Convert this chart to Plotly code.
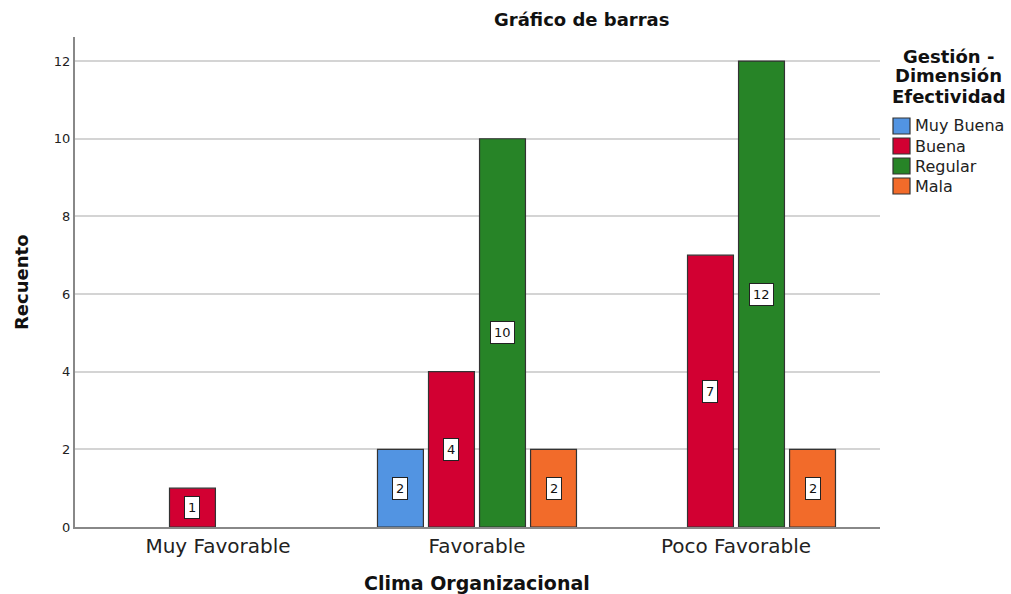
import plotly.graph_objects as go

categories = ["Muy Favorable", "Favorable", "Poco Favorable"]
series_names = ["Muy Buena", "Buena", "Regular", "Mala"]
muy_buena = [None, 2, None]
buena = [1, 4, 7]
regular = [None, 10, 12]
mala = [None, 2, 2]
series_values = [muy_buena, buena, regular, mala]
colors = ["#5294E2", "#D20032", "#278427", "#F26B2A"]
y_ticks = [0, 2, 4, 6, 8, 10, 12]

FONT = "DejaVu Sans, Verdana, sans-serif"
W, H = 1011, 594
L, R, T, B = 75, 880, 37, 527  # plot area in pixels


def px(x):
    return (x - L) / (R - L)


def py(y):
    return (B - y) / (B - T)


bargap = 0.212
n = len(series_names)
slot = (1 - bargap) / n

fig = go.Figure()
for name, vals, col in zip(series_names, series_values, colors):
    fig.add_trace(go.Bar(
        x=categories, y=vals, name=name, showlegend=False,
        marker=dict(color=col, line=dict(color="#333333", width=1.2)),
    ))

annotations = []
for k, vals in enumerate(series_values):
    for i, v in enumerate(vals):
        if v is None:
            continue
        annotations.append(dict(
            x=i + (k - (n - 1) / 2) * slot, y=v / 2, xref="x", yref="y",
            xanchor="center", yanchor="middle",
            text=str(v), showarrow=False,
            font=dict(family=FONT, size=13, color="#111111"),
            bgcolor="white", bordercolor="#222222", borderwidth=1, borderpad=3,
        ))


def label(x, y, text, size, anchor="center", angle=0, color="#111111"):
    annotations.append(dict(x=px(x), y=py(y), xref="paper", yref="paper",
                            xanchor=anchor, yanchor="middle", textangle=angle,
                            text=text, showarrow=False,
                            font=dict(family=FONT, size=size, color=color)))


# titles
label(581, 19, "<b>Gráfico de barras</b>", 18)
label(477, 583, "<b>Clima Organizacional</b>", 19)
label(21, 282, "<b>Recuento</b>", 18, angle=-90)

# legend (custom)
legend_title = ["Gestión -", "Dimensión", "Efectividad"]
for j, line in enumerate(legend_title):
    label(949, 56 + 20 * j, "<b>" + line + "</b>", 18)
shapes = []
for j, (name, col) in enumerate(zip(series_names, colors)):
    yc = 126 + 20 * j
    shapes.append(dict(type="rect", xref="paper", yref="paper",
                       x0=px(893), x1=px(910), y0=py(yc - 8), y1=py(yc + 8),
                       fillcolor=col, line=dict(color="#333333", width=1.2)))
    label(913, yc, name, 16, anchor="left", color="#222222")

fig.update_layout(
    width=W, height=H,
    margin=dict(l=L, r=W - R, t=T, b=H - B, autoexpand=False),
    paper_bgcolor="white", plot_bgcolor="white",
    barmode="group", bargap=bargap, bargroupgap=0.1,
    font=dict(family=FONT, color="#111111"),
    showlegend=False,
    xaxis=dict(
        range=[-0.552, 2.556], showgrid=False, showline=True, linecolor="#888888", linewidth=2,
        ticks="", tickfont=dict(family=FONT, size=20, color="#222222"), automargin=False,
    ),
    yaxis=dict(
        range=[0, 12.62], tickvals=y_ticks, showgrid=True, gridcolor="#D4D4D4", gridwidth=1.5,
        showline=True, linecolor="#888888", linewidth=2, zeroline=False,
        ticks="", tickfont=dict(family=FONT, size=13, color="#222222"), automargin=False,
    ),
    annotations=annotations,
    shapes=shapes,
)

fig.write_html("out.html")
